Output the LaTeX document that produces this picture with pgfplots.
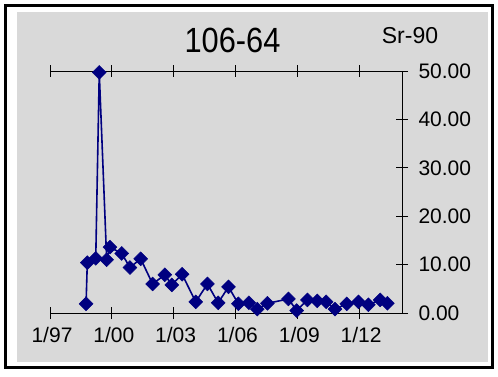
\documentclass[border=0pt]{standalone}
\usepackage{fontspec}
\setmainfont{Liberation Sans}
\usepackage{pgfplots}
\pgfplotsset{compat=1.18}
\definecolor{bggray}{RGB}{217,217,217}
\definecolor{navyc}{RGB}{0,0,128}
\begin{document}
\begin{tikzpicture}[x=1pt,y=1pt]
\useasboundingbox (0,0) rectangle (498,-377);
\fill[white] (0,0) rectangle (498,-377);
\draw[black, line width=2.6pt] (5.5,-5.5) rectangle (492.3,-367.3);
\fill[bggray] (17,-12) rectangle (488,-362);
\node[font=\fontsize{35}{40}\selectfont, inner sep=0pt, xscale=0.88] at (232.5,-40) {106-64};
\node[font=\fontsize{23}{27}\selectfont, inner sep=0pt] at (410,-36) {Sr-90};
\begin{axis}[
  at={(50pt,-313pt)}, anchor=south west,
  scale only axis, width=352pt, height=242pt,
  xmin=1997, xmax=2014.08, ymin=0, ymax=50,
  axis x line*=box, axis y line*=right,
  clip=false,
  xtick={1997,2000,2003,2006,2009,2012},
  xticklabels={1/97,1/00,1/03,1/06,1/09,1/12},
  xticklabel pos=lower,
  ytick={0,10,20,30,40,50},
  yticklabel pos=right,
  tick align=center,
  major tick length=12pt,
  tick style={black, line width=1pt},
  axis line style={black, line width=1pt},
  every axis plot/.append style={line width=1.6pt},
  ticklabel style={font=\fontsize{21}{25}\selectfont},
  /pgf/number format/assume math mode=true,
  yticklabel style={xshift=7pt, /pgf/number format/.cd, fixed, fixed zerofill, precision=2},
  xticklabel style={xshift=2pt, yshift=-5pt},
]
\addplot[color=navyc, mark=square*, mark size=4.9pt,
  mark options={fill=navyc, draw=navyc, rotate=45, line width=0.5pt}]
  coordinates {
  (1998.75,1.9) (1998.81,10.4) (1999.22,11.3) (1999.39,49.7) (1999.75,11.0)
  (1999.91,13.6) (2000.48,12.3) (2000.88,9.4) (2001.40,11.2) (2001.98,6.0)
  (2002.57,7.9) (2002.91,5.8) (2003.41,8.0) (2004.07,2.3) (2004.64,6.0)
  (2005.16,2.1) (2005.66,5.4) (2006.14,1.9) (2006.65,2.1) (2007.06,0.8)
  (2007.55,2.0) (2008.57,2.9) (2008.97,0.5) (2009.49,2.7) (2009.97,2.5)
  (2010.40,2.3) (2010.83,0.8) (2011.40,1.9) (2011.97,2.3) (2012.45,1.7)
  (2013.02,2.7) (2013.37,2.0)
  };
\end{axis}
\end{tikzpicture}
\end{document}
